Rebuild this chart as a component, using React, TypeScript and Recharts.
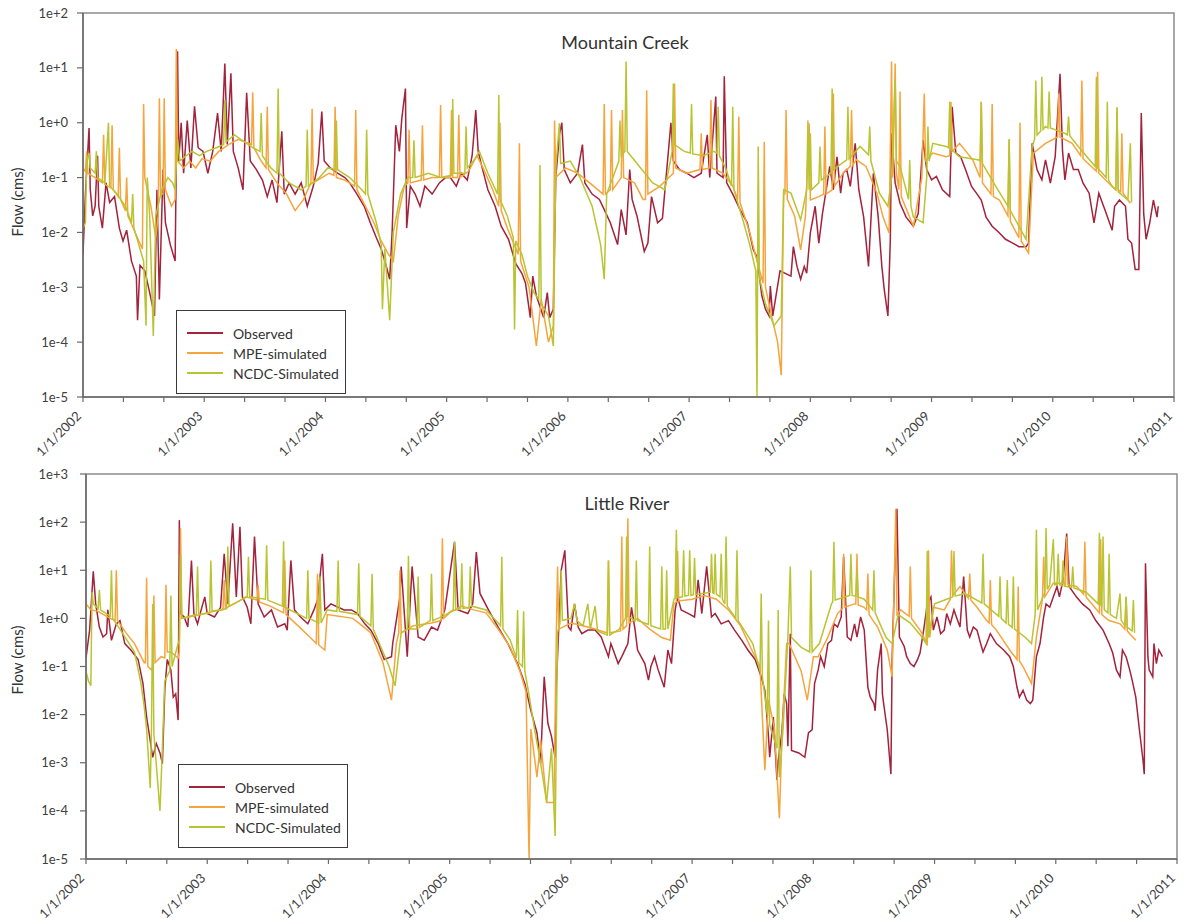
import React from 'react';
import { LineChart, Line, XAxis, YAxis, ReferenceArea } from 'recharts';

type Pt = [number, number];

const FONT = "Lato, 'Open Sans', sans-serif";

// x axis: yearly labels, ticks every 4 months
const years = [2002, 2003, 2004, 2005, 2006, 2007, 2008, 2009, 2010, 2011];
const yearLabels = ['1/1/2002', '1/1/2003', '1/1/2004', '1/1/2005', '1/1/2006', '1/1/2007', '1/1/2008', '1/1/2009', '1/1/2010', '1/1/2011'];

const mcYTicks = [1e-5, 1e-4, 1e-3, 1e-2, 1e-1, 1, 10, 100];
const lrYTicks = [1e-5, 1e-4, 1e-3, 1e-2, 1e-1, 1, 10, 100, 1000];

const seriesNames = ['Observed', 'MPE-simulated', 'NCDC-Simulated'];
const seriesColors = ['#a3223c', '#f6a43c', '#b9c432'];

// ---- Mountain Creek (flow, cms) ----
const mcObserved: Pt[] = [
  [2002.00, 0.004], [2002.02, 0.05], [2002.05, 0.8], [2002.06, 0.06], [2002.08, 0.02], [2002.10, 0.03], [2002.12, 0.25], [2002.13, 0.03],
  [2002.16, 0.012], [2002.19, 0.08], [2002.22, 0.035], [2002.26, 0.045], [2002.30, 0.012], [2002.33, 0.007], [2002.36, 0.011], [2002.40, 0.003],
  [2002.44, 0.0016], [2002.45, 0.00025], [2002.47, 0.0025], [2002.51, 0.002], [2002.55, 0.0008], [2002.59, 0.0003], [2002.61, 0.06], [2002.63, 0.0006],
  [2002.66, 0.14], [2002.68, 0.015], [2002.72, 0.006], [2002.76, 0.003], [2002.78, 20], [2002.79, 0.2], [2002.81, 1.0], [2002.83, 0.12],
  [2002.86, 1.1], [2002.89, 0.15], [2002.92, 2.0], [2002.95, 0.35], [2002.99, 0.3], [2003.03, 0.12], [2003.07, 0.3], [2003.11, 1.5],
  [2003.14, 0.3], [2003.17, 12], [2003.19, 0.4], [2003.22, 8], [2003.24, 0.3], [2003.28, 0.15], [2003.32, 0.06], [2003.35, 3.5],
  [2003.38, 0.2], [2003.43, 0.14], [2003.48, 0.09], [2003.52, 0.045], [2003.56, 0.09], [2003.60, 0.035], [2003.64, 0.7], [2003.66, 0.05],
  [2003.70, 0.08], [2003.75, 0.05], [2003.80, 0.08], [2003.85, 0.03], [2003.90, 0.07], [2003.94, 0.18], [2003.97, 1.6], [2003.99, 0.2],
  [2004.04, 0.15], [2004.10, 0.12], [2004.16, 0.1], [2004.20, 0.08], [2004.26, 0.05], [2004.32, 0.03], [2004.37, 0.015], [2004.42, 0.008],
  [2004.46, 0.005], [2004.50, 0.0025], [2004.53, 0.0014], [2004.55, 0.01], [2004.58, 0.9], [2004.61, 0.3], [2004.63, 1.2], [2004.66, 4.2],
  [2004.67, 0.012], [2004.70, 0.07], [2004.74, 0.05], [2004.78, 0.03], [2004.82, 0.07], [2004.88, 0.05], [2004.94, 0.08], [2004.99, 0.1],
  [2005.03, 0.1], [2005.08, 0.07], [2005.12, 0.12], [2005.17, 0.09], [2005.21, 0.25], [2005.23, 0.85], [2005.24, 1.7], [2005.26, 0.3],
  [2005.29, 0.16], [2005.34, 0.06], [2005.40, 0.03], [2005.45, 0.013], [2005.51, 0.0075], [2005.57, 0.0027], [2005.62, 0.0018], [2005.65, 0.0012],
  [2005.69, 0.00028], [2005.71, 0.0016], [2005.74, 0.0007], [2005.80, 0.00028], [2005.83, 0.0008], [2005.85, 0.00028], [2005.88, 0.0004], [2005.90, 0.1],
  [2005.93, 0.6], [2005.95, 1.0], [2005.97, 0.14], [2006.02, 0.08], [2006.08, 0.12], [2006.12, 0.4], [2006.14, 0.08], [2006.20, 0.05],
  [2006.26, 0.04], [2006.30, 0.026], [2006.35, 0.015], [2006.41, 0.006], [2006.44, 0.026], [2006.48, 0.009], [2006.51, 0.14], [2006.53, 0.04],
  [2006.57, 0.02], [2006.63, 0.0045], [2006.66, 0.0064], [2006.69, 0.045], [2006.74, 0.015], [2006.78, 0.018], [2006.85, 1.0], [2006.87, 0.2],
  [2006.92, 0.14], [2006.98, 0.12], [2007.04, 0.1], [2007.10, 0.12], [2007.15, 0.6], [2007.17, 0.1], [2007.22, 3.0], [2007.23, 0.12],
  [2007.28, 0.1], [2007.29, 7], [2007.31, 0.08], [2007.36, 0.05], [2007.42, 0.026], [2007.48, 0.015], [2007.53, 0.0048], [2007.56, 0.0036],
  [2007.60, 0.0007], [2007.63, 0.0004], [2007.66, 0.0003], [2007.67, 0.00105], [2007.69, 0.0003], [2007.75, 0.002], [2007.84, 0.0016], [2007.86, 0.0055],
  [2007.89, 0.0024], [2007.92, 0.0014], [2007.95, 0.0024], [2007.97, 0.0018], [2008.00, 0.0098], [2008.04, 0.03], [2008.07, 0.0064], [2008.10, 0.022],
  [2008.14, 0.079], [2008.16, 0.16], [2008.19, 0.06], [2008.22, 0.24], [2008.25, 0.052], [2008.27, 0.12], [2008.30, 0.14], [2008.33, 0.069],
  [2008.37, 0.42], [2008.40, 0.06], [2008.44, 0.019], [2008.48, 0.0024], [2008.52, 0.12], [2008.56, 0.019], [2008.59, 0.0024], [2008.61, 0.0009],
  [2008.64, 0.0003], [2008.66, 0.0075], [2008.67, 0.64], [2008.70, 0.079], [2008.74, 0.034], [2008.79, 0.019], [2008.85, 0.013], [2008.89, 0.022],
  [2008.93, 0.48], [2008.96, 0.14], [2009.00, 0.091], [2009.04, 0.105], [2009.09, 0.06], [2009.15, 0.045], [2009.17, 1.95], [2009.20, 0.28],
  [2009.24, 0.24], [2009.28, 0.14], [2009.33, 0.069], [2009.37, 0.052], [2009.41, 0.039], [2009.45, 0.019], [2009.50, 0.013], [2009.56, 0.0098],
  [2009.61, 0.0075], [2009.67, 0.0064], [2009.72, 0.0055], [2009.78, 0.0055], [2009.80, 0.0064], [2009.83, 0.42], [2009.87, 0.14], [2009.91, 0.091],
  [2009.94, 0.21], [2009.98, 0.079], [2010.02, 0.24], [2010.06, 7.8], [2010.08, 0.32], [2010.10, 0.091], [2010.13, 0.28], [2010.17, 0.14],
  [2010.21, 0.14], [2010.25, 0.079], [2010.30, 0.052], [2010.34, 0.015], [2010.38, 0.052], [2010.43, 0.026], [2010.49, 0.011], [2010.51, 0.03],
  [2010.55, 0.039], [2010.60, 0.03], [2010.62, 0.0075], [2010.65, 0.0064], [2010.68, 0.0021], [2010.71, 0.0021], [2010.73, 1.5], [2010.75, 0.022],
  [2010.77, 0.0075], [2010.80, 0.015], [2010.83, 0.039], [2010.86, 0.019], [2010.87, 0.03],
];

const mcMpe: Pt[] = [
  [2002.00, 0.15], [2002.02, 0.13], [2002.03, 0.3], [2002.04, 0.12], [2002.10, 0.1], [2002.16, 0.08], [2002.17, 0.6], [2002.18, 0.075],
  [2002.23, 0.065], [2002.24, 0.9], [2002.25, 0.06], [2002.29, 0.045], [2002.30, 0.35], [2002.31, 0.04], [2002.35, 0.025], [2002.36, 0.1],
  [2002.37, 0.02], [2002.43, 0.01], [2002.49, 0.005], [2002.50, 2.2], [2002.51, 0.1], [2002.56, 0.03], [2002.60, 0.008], [2002.62, 0.02],
  [2002.63, 2.8], [2002.64, 0.05], [2002.66, 0.05], [2002.67, 2.8], [2002.68, 0.06], [2002.73, 0.03], [2002.76, 0.04], [2002.77, 22],
  [2002.78, 0.2], [2002.83, 0.15], [2002.88, 0.2], [2002.93, 0.15], [2002.98, 0.22], [2003.05, 0.2], [2003.12, 0.3], [2003.20, 0.4],
  [2003.28, 0.5], [2003.39, 0.4], [2003.40, 3.6], [2003.41, 0.35], [2003.47, 0.2], [2003.51, 0.15], [2003.52, 1.95], [2003.53, 0.14],
  [2003.60, 0.08], [2003.68, 0.05], [2003.75, 0.025], [2003.82, 0.04], [2003.88, 0.08], [2003.89, 1.8], [2003.90, 0.08], [2003.97, 0.1],
  [2004.03, 0.12], [2004.07, 0.11], [2004.08, 1.95], [2004.09, 0.1], [2004.16, 0.09], [2004.24, 0.07], [2004.25, 1.7], [2004.26, 0.06],
  [2004.33, 0.03], [2004.40, 0.015], [2004.46, 0.007], [2004.52, 0.004], [2004.56, 0.003], [2004.60, 0.02], [2004.65, 0.07], [2004.68, 0.08],
  [2004.69, 0.74], [2004.70, 0.08], [2004.79, 0.09], [2004.80, 0.9], [2004.81, 0.09], [2004.88, 0.1], [2004.94, 0.1], [2004.95, 2.1],
  [2004.96, 0.1], [2005.03, 0.1], [2005.04, 1.7], [2005.05, 0.1], [2005.09, 0.1], [2005.10, 1.4], [2005.11, 0.1], [2005.18, 0.13],
  [2005.25, 0.25], [2005.30, 0.15], [2005.38, 0.06], [2005.43, 0.03], [2005.44, 1.0], [2005.45, 0.025], [2005.50, 0.012], [2005.59, 0.004],
  [2005.60, 0.42], [2005.61, 0.003], [2005.68, 0.001], [2005.74, 0.000085], [2005.78, 0.0006], [2005.84, 0.0001], [2005.88, 0.0002], [2005.89, 1.1],
  [2005.90, 0.1], [2005.98, 0.15], [2006.08, 0.12], [2006.18, 0.08], [2006.29, 0.05], [2006.30, 2.2], [2006.31, 0.05], [2006.35, 0.06],
  [2006.36, 1.7], [2006.37, 0.06], [2006.44, 0.1], [2006.45, 1.7], [2006.46, 0.1], [2006.55, 0.08], [2006.62, 0.04], [2006.64, 0.04],
  [2006.65, 3.9], [2006.66, 0.05], [2006.76, 0.07], [2006.87, 0.12], [2006.88, 5.2], [2006.89, 0.15], [2006.98, 0.12], [2007.09, 0.14],
  [2007.10, 0.64], [2007.11, 0.14], [2007.17, 0.15], [2007.18, 2.6], [2007.19, 0.15], [2007.28, 0.12], [2007.36, 0.07], [2007.40, 0.04],
  [2007.41, 1.3], [2007.42, 0.035], [2007.50, 0.01], [2007.56, 0.003], [2007.61, 0.0012], [2007.62, 0.45], [2007.63, 0.001], [2007.68, 0.0003],
  [2007.73, 0.0001], [2007.76, 0.000025], [2007.78, 0.05], [2007.79, 0.05], [2007.80, 1.7], [2007.81, 0.04], [2007.87, 0.02], [2007.92, 0.0048],
  [2007.96, 0.02], [2007.99, 0.98], [2008.00, 0.039], [2008.07, 0.045], [2008.11, 0.05], [2008.12, 0.85], [2008.13, 0.05], [2008.18, 0.06],
  [2008.19, 3.4], [2008.20, 0.07], [2008.27, 0.12], [2008.33, 0.16], [2008.34, 1.7], [2008.35, 0.17], [2008.38, 0.21], [2008.46, 0.16],
  [2008.55, 0.052], [2008.60, 0.019], [2008.65, 0.0098], [2008.67, 13], [2008.68, 0.1], [2008.70, 12], [2008.71, 0.12], [2008.73, 0.06],
  [2008.74, 3.7], [2008.75, 0.045], [2008.85, 0.013], [2008.92, 0.1], [2008.94, 3.4], [2008.95, 0.2], [2009.01, 0.28], [2009.12, 0.24],
  [2009.15, 0.25], [2009.16, 2.4], [2009.17, 0.3], [2009.23, 0.42], [2009.34, 0.21], [2009.40, 0.1], [2009.41, 2.4], [2009.42, 0.08],
  [2009.49, 0.05], [2009.50, 2.2], [2009.51, 0.045], [2009.56, 0.039], [2009.63, 0.02], [2009.64, 0.5], [2009.65, 0.016], [2009.72, 0.008],
  [2009.73, 1.0], [2009.74, 0.007], [2009.80, 0.0042], [2009.84, 0.28], [2009.94, 0.42], [2010.04, 0.55], [2010.05, 3.4], [2010.06, 0.55],
  [2010.16, 0.42], [2010.23, 0.25], [2010.24, 5.9], [2010.25, 0.22], [2010.36, 0.13], [2010.37, 8.5], [2010.38, 0.12], [2010.49, 0.069],
  [2010.52, 0.06], [2010.53, 1.9], [2010.54, 0.06], [2010.56, 0.055], [2010.57, 0.64], [2010.58, 0.052], [2010.64, 0.034],
];

const mcNcdc: Pt[] = [
  [2002.00, 0.012], [2002.02, 0.015], [2002.03, 0.2], [2002.05, 0.28], [2002.06, 0.15], [2002.10, 0.12], [2002.11, 0.3], [2002.12, 0.1],
  [2002.18, 0.08], [2002.21, 1.0], [2002.22, 0.07], [2002.28, 0.05], [2002.35, 0.03], [2002.40, 0.015], [2002.41, 0.05], [2002.42, 0.012],
  [2002.46, 0.006], [2002.50, 0.003], [2002.52, 0.0002], [2002.53, 0.1], [2002.55, 0.02], [2002.58, 0.00013], [2002.60, 0.02], [2002.65, 0.06],
  [2002.70, 0.1], [2002.74, 0.08], [2002.76, 0.06], [2002.78, 0.5], [2002.80, 0.2], [2002.85, 0.25], [2002.90, 0.3], [2002.96, 0.25],
  [2003.02, 0.3], [2003.10, 0.35], [2003.16, 0.4], [2003.17, 2.6], [2003.18, 0.45], [2003.25, 0.6], [2003.33, 0.45], [2003.40, 0.35],
  [2003.46, 0.3], [2003.47, 1.5], [2003.48, 0.25], [2003.55, 0.15], [2003.60, 0.12], [2003.61, 4.2], [2003.62, 0.12], [2003.70, 0.08],
  [2003.80, 0.06], [2003.84, 0.07], [2003.85, 0.74], [2003.86, 0.07], [2003.95, 0.1], [2004.02, 0.15], [2004.08, 0.14], [2004.09, 1.1],
  [2004.10, 0.14], [2004.20, 0.1], [2004.30, 0.06], [2004.33, 0.05], [2004.34, 0.74], [2004.35, 0.05], [2004.42, 0.015], [2004.46, 0.006],
  [2004.47, 0.0004], [2004.49, 0.005], [2004.53, 0.00025], [2004.56, 0.01], [2004.62, 0.05], [2004.68, 0.1], [2004.72, 0.1], [2004.73, 0.48],
  [2004.74, 0.1], [2004.85, 0.12], [2004.95, 0.1], [2005.04, 0.11], [2005.05, 2.7], [2005.06, 0.12], [2005.15, 0.12], [2005.16, 0.85],
  [2005.17, 0.15], [2005.22, 0.2], [2005.27, 0.3], [2005.34, 0.12], [2005.42, 0.05], [2005.43, 3.2], [2005.44, 0.04], [2005.50, 0.02],
  [2005.55, 0.008], [2005.56, 0.00017], [2005.57, 0.007], [2005.62, 0.004], [2005.67, 0.0015], [2005.72, 0.0008], [2005.76, 0.0006], [2005.77, 0.17],
  [2005.78, 0.0005], [2005.84, 0.0003], [2005.88, 0.000085], [2005.90, 0.15], [2005.93, 0.98], [2005.94, 0.18], [2006.02, 0.2], [2006.10, 0.1],
  [2006.20, 0.03], [2006.27, 0.006], [2006.30, 0.0014], [2006.32, 0.05], [2006.40, 0.15], [2006.42, 0.2], [2006.43, 1.1], [2006.44, 0.25],
  [2006.47, 0.3], [2006.48, 13], [2006.49, 0.3], [2006.60, 0.15], [2006.70, 0.08], [2006.80, 0.06], [2006.86, 0.3], [2006.87, 5.2],
  [2006.88, 0.4], [2006.96, 0.3], [2007.01, 0.28], [2007.02, 2.2], [2007.03, 0.27], [2007.12, 0.25], [2007.20, 0.3], [2007.23, 0.28],
  [2007.24, 1.95], [2007.25, 0.25], [2007.30, 0.15], [2007.35, 0.07], [2007.36, 1.95], [2007.37, 0.06], [2007.45, 0.015], [2007.50, 0.006],
  [2007.55, 0.002], [2007.56, 0.00001], [2007.57, 0.37], [2007.58, 0.0015], [2007.63, 0.0005], [2007.70, 0.0002], [2007.76, 0.0003], [2007.78, 0.06],
  [2007.84, 0.052], [2007.92, 0.017], [2007.97, 0.06], [2007.98, 1.1], [2007.99, 0.06], [2008.00, 0.64], [2008.01, 0.06], [2008.07, 0.08],
  [2008.08, 0.37], [2008.09, 0.09], [2008.17, 0.12], [2008.18, 4.2], [2008.19, 0.14], [2008.30, 0.21], [2008.31, 1.95], [2008.32, 0.22],
  [2008.41, 0.37], [2008.48, 0.26], [2008.49, 0.85], [2008.50, 0.2], [2008.57, 0.052], [2008.64, 0.03], [2008.67, 0.1], [2008.70, 6],
  [2008.71, 0.2], [2008.74, 0.16], [2008.81, 0.04], [2008.82, 0.21], [2008.83, 0.03], [2008.85, 0.019], [2008.93, 0.015], [2008.96, 0.1],
  [2008.97, 0.85], [2008.98, 0.2], [2009.01, 0.42], [2009.12, 0.37], [2009.14, 0.35], [2009.15, 2.4], [2009.16, 0.33], [2009.23, 0.24],
  [2009.39, 0.21], [2009.40, 0.2], [2009.41, 2.4], [2009.42, 0.18], [2009.53, 0.069], [2009.63, 0.03], [2009.64, 0.5], [2009.65, 0.025],
  [2009.78, 0.0075], [2009.83, 0.37], [2009.85, 0.5], [2009.86, 5.9], [2009.87, 0.6], [2009.90, 0.7], [2009.91, 6.9], [2009.92, 0.75],
  [2009.94, 0.85], [2009.96, 0.8], [2009.97, 3.7], [2009.98, 0.8], [2010.10, 0.64], [2010.12, 0.6], [2010.13, 1.3], [2010.14, 0.58],
  [2010.21, 0.37], [2010.35, 0.16], [2010.36, 6.9], [2010.37, 0.15], [2010.44, 0.1], [2010.45, 2.4], [2010.46, 0.09], [2010.49, 0.069],
  [2010.52, 0.06], [2010.53, 1.9], [2010.54, 0.055], [2010.62, 0.039], [2010.64, 0.42], [2010.65, 0.035],
];

// ---- Little River (flow, cms) ----
const lrObserved: Pt[] = [
  [2002.00, 0.15], [2002.03, 0.57], [2002.06, 9.5], [2002.08, 2.0], [2002.11, 0.66], [2002.14, 0.41], [2002.17, 0.48], [2002.18, 1.5],
  [2002.21, 0.35], [2002.25, 0.77], [2002.28, 0.9], [2002.32, 0.3], [2002.37, 0.22], [2002.43, 0.14], [2002.47, 0.044], [2002.50, 0.0089],
  [2002.52, 0.0042], [2002.55, 0.0013], [2002.58, 0.0025], [2002.61, 0.0016], [2002.63, 0.00096], [2002.65, 0.032], [2002.67, 0.14], [2002.70, 0.085],
  [2002.72, 0.023], [2002.74, 0.027], [2002.76, 0.0077], [2002.77, 110], [2002.78, 1.26], [2002.81, 1.07], [2002.84, 0.66], [2002.87, 16],
  [2002.89, 1.26], [2002.92, 0.77], [2002.95, 1.5], [2002.98, 2.8], [2003.00, 1.26], [2003.06, 1.07], [2003.11, 1.7], [2003.14, 22],
  [2003.17, 2.0], [2003.21, 95], [2003.24, 2.8], [2003.27, 80], [2003.29, 2.8], [2003.33, 1.7], [2003.36, 0.77], [2003.39, 50],
  [2003.42, 2.0], [2003.47, 1.07], [2003.53, 1.5], [2003.58, 0.66], [2003.64, 0.77], [2003.66, 0.57], [2003.69, 16], [2003.72, 1.5],
  [2003.77, 1.07], [2003.83, 0.77], [2003.88, 1.5], [2003.91, 2.4], [2003.95, 22], [2003.97, 1.5], [2004.02, 2.0], [2004.08, 1.7],
  [2004.13, 1.5], [2004.19, 1.5], [2004.24, 1.26], [2004.30, 0.77], [2004.35, 0.57], [2004.41, 0.3], [2004.46, 0.14], [2004.52, 0.16],
  [2004.53, 0.3], [2004.59, 2.8], [2004.60, 12], [2004.65, 0.16], [2004.69, 12], [2004.74, 0.41], [2004.79, 0.35], [2004.85, 0.66],
  [2004.90, 0.57], [2004.96, 1.5], [2005.04, 39], [2005.07, 1.5], [2005.15, 1.26], [2005.19, 2.0], [2005.22, 24], [2005.25, 3.3],
  [2005.32, 1.5], [2005.40, 0.66], [2005.48, 0.3], [2005.56, 0.115], [2005.62, 0.044], [2005.67, 0.012], [2005.72, 0.0042], [2005.75, 0.00096],
  [2005.77, 0.017], [2005.78, 0.061], [2005.81, 0.0066], [2005.84, 0.0035], [2005.87, 0.0013], [2005.88, 0.044], [2005.89, 0.16], [2005.92, 10],
  [2005.95, 26], [2005.98, 0.66], [2006.00, 0.57], [2006.03, 2.0], [2006.06, 0.66], [2006.09, 0.48], [2006.14, 0.57], [2006.20, 0.57],
  [2006.25, 0.41], [2006.31, 0.16], [2006.33, 0.3], [2006.39, 0.115], [2006.42, 0.16], [2006.47, 0.3], [2006.50, 1.7], [2006.53, 0.57],
  [2006.55, 0.22], [2006.61, 0.115], [2006.64, 0.052], [2006.66, 0.1], [2006.69, 0.16], [2006.72, 0.085], [2006.77, 0.037], [2006.80, 0.22],
  [2006.83, 0.115], [2006.86, 1.5], [2006.88, 2.8], [2006.91, 1.5], [2006.97, 1.26], [2007.02, 1.07], [2007.05, 6.3], [2007.08, 1.26],
  [2007.12, 12], [2007.16, 1.07], [2007.19, 1.26], [2007.24, 0.77], [2007.30, 0.9], [2007.35, 0.57], [2007.41, 0.35], [2007.46, 0.22],
  [2007.52, 0.14], [2007.57, 0.061], [2007.60, 0.032], [2007.63, 0.0035], [2007.64, 0.0013], [2007.67, 0.0089], [2007.70, 0.00044], [2007.71, 0.0011],
  [2007.74, 0.0042], [2007.76, 0.027], [2007.78, 0.017], [2007.79, 0.0022], [2007.81, 0.48], [2007.82, 0.0018], [2007.88, 0.0016], [2007.93, 0.0013],
  [2007.96, 0.0042], [2007.99, 0.0048], [2008.01, 0.044], [2008.04, 0.085], [2008.06, 0.16], [2008.09, 0.1], [2008.12, 0.3], [2008.15, 0.35],
  [2008.17, 0.77], [2008.20, 0.66], [2008.23, 1.07], [2008.25, 19], [2008.28, 0.41], [2008.31, 0.35], [2008.34, 0.77], [2008.36, 0.41],
  [2008.39, 1.07], [2008.42, 0.57], [2008.45, 0.037], [2008.47, 0.023], [2008.50, 0.017], [2008.51, 0.012], [2008.53, 0.085], [2008.56, 0.3],
  [2008.57, 0.027], [2008.58, 0.017], [2008.61, 0.0048], [2008.64, 0.00058], [2008.65, 0.14], [2008.67, 7.4], [2008.69, 190], [2008.71, 0.41],
  [2008.75, 0.26], [2008.77, 0.16], [2008.80, 0.115], [2008.83, 0.1], [2008.86, 0.14], [2008.88, 0.19], [2008.91, 0.57], [2008.94, 2.0],
  [2008.97, 2.8], [2008.99, 0.57], [2009.02, 1.07], [2009.05, 0.48], [2009.08, 0.57], [2009.10, 1.26], [2009.13, 0.77], [2009.16, 1.5],
  [2009.18, 1.07], [2009.21, 0.66], [2009.24, 7.4], [2009.27, 0.57], [2009.29, 0.41], [2009.32, 0.66], [2009.35, 0.57], [2009.38, 0.3],
  [2009.40, 0.2], [2009.43, 0.3], [2009.46, 0.48], [2009.51, 0.3], [2009.57, 0.22], [2009.62, 0.16], [2009.65, 0.1], [2009.68, 0.037],
  [2009.70, 0.023], [2009.73, 0.032], [2009.76, 0.02], [2009.79, 0.017], [2009.81, 0.02], [2009.84, 0.16], [2009.87, 0.3], [2009.90, 1.07],
  [2009.92, 2.0], [2009.95, 1.7], [2010.01, 4.6], [2010.03, 2.8], [2010.06, 6.3], [2010.09, 58], [2010.11, 4.6], [2010.17, 2.8],
  [2010.22, 2.0], [2010.28, 1.5], [2010.33, 0.9], [2010.39, 0.57], [2010.44, 0.3], [2010.47, 0.19], [2010.50, 0.085], [2010.53, 0.061],
  [2010.55, 0.22], [2010.58, 0.16], [2010.61, 0.085], [2010.63, 0.052], [2010.66, 0.023], [2010.69, 0.0048], [2010.72, 0.0011], [2010.73, 0.00058],
  [2010.74, 14], [2010.76, 0.16], [2010.77, 0.085], [2010.80, 0.061], [2010.81, 0.3], [2010.83, 0.115], [2010.85, 0.22], [2010.88, 0.16],
];

const lrMpe: Pt[] = [
  [2002.00, 2.0], [2002.04, 1.5], [2002.10, 1.4], [2002.12, 1.3], [2002.20, 1.0], [2002.24, 0.9], [2002.25, 10], [2002.26, 0.9],
  [2002.33, 0.5], [2002.40, 0.3], [2002.48, 0.12], [2002.49, 0.12], [2002.50, 7], [2002.51, 0.1], [2002.54, 0.085], [2002.55, 0.1],
  [2002.56, 3], [2002.57, 0.12], [2002.62, 0.16], [2002.65, 0.15], [2002.66, 5], [2002.67, 0.2], [2002.70, 0.2], [2002.76, 0.15],
  [2002.77, 0.2], [2002.78, 75], [2002.79, 1.0], [2002.85, 1.07], [2002.95, 1.2], [2003.05, 1.4], [2003.13, 1.5], [2003.14, 6.3],
  [2003.15, 1.6], [2003.25, 2.2], [2003.32, 2.8], [2003.41, 2.4], [2003.42, 5], [2003.43, 2.2], [2003.52, 1.8], [2003.63, 1.3],
  [2003.64, 16], [2003.65, 1.2], [2003.75, 0.7], [2003.85, 0.4], [2003.90, 0.3], [2003.91, 8.5], [2003.92, 0.28], [2003.97, 0.22],
  [2003.99, 1.2], [2004.10, 1.1], [2004.20, 1.0], [2004.28, 0.7], [2004.35, 0.5], [2004.45, 0.12], [2004.52, 0.02], [2004.56, 0.3],
  [2004.58, 0.5], [2004.59, 10], [2004.60, 0.5], [2004.70, 0.7], [2004.85, 0.8], [2004.93, 0.9], [2004.94, 46], [2004.95, 1.0],
  [2005.00, 1.3], [2005.10, 1.8], [2005.20, 1.5], [2005.30, 1.3], [2005.40, 0.6], [2005.50, 0.25], [2005.58, 0.08], [2005.63, 0.03],
  [2005.655, 0.00001], [2005.67, 0.005], [2005.72, 0.0005], [2005.75, 0.003], [2005.80, 0.00015], [2005.86, 0.00015], [2005.88, 0.5], [2005.89, 12],
  [2005.90, 0.6], [2006.00, 0.8], [2006.10, 0.7], [2006.20, 0.6], [2006.30, 0.5], [2006.31, 16], [2006.32, 0.5], [2006.41, 0.55],
  [2006.42, 50], [2006.43, 0.6], [2006.46, 0.7], [2006.47, 120], [2006.48, 0.8], [2006.55, 1.0], [2006.65, 0.6], [2006.75, 0.4],
  [2006.82, 0.35], [2006.85, 2.0], [2006.87, 2.2], [2006.88, 25], [2006.89, 2.3], [2007.00, 2.5], [2007.10, 3.0], [2007.20, 2.5],
  [2007.30, 1.5], [2007.40, 0.7], [2007.50, 0.2], [2007.56, 0.1], [2007.60, 0.0007], [2007.63, 0.02], [2007.68, 0.005], [2007.72, 0.00007],
  [2007.74, 0.003], [2007.78, 0.3], [2007.80, 0.3], [2007.90, 0.08], [2007.95, 0.02], [2008.00, 0.16], [2008.04, 0.16], [2008.12, 0.41],
  [2008.20, 1.26], [2008.24, 1.6], [2008.25, 22], [2008.26, 1.7], [2008.34, 2.0], [2008.35, 2.0], [2008.36, 22], [2008.37, 1.9],
  [2008.42, 1.7], [2008.44, 1.5], [2008.45, 8.5], [2008.46, 1.2], [2008.53, 0.66], [2008.61, 0.22], [2008.65, 0.061], [2008.66, 0.77],
  [2008.68, 190], [2008.69, 1.2], [2008.72, 1.5], [2008.79, 1.1], [2008.80, 12], [2008.81, 1.0], [2008.88, 0.57], [2008.94, 0.3],
  [2008.95, 26], [2008.96, 0.4], [2008.99, 1.7], [2009.08, 1.5], [2009.13, 2.5], [2009.14, 26], [2009.15, 3], [2009.21, 4.6],
  [2009.27, 2.8], [2009.28, 2.6], [2009.29, 8.5], [2009.30, 2.4], [2009.35, 1.7], [2009.43, 0.9], [2009.45, 0.8], [2009.46, 6.3],
  [2009.47, 0.75], [2009.51, 0.57], [2009.62, 0.22], [2009.68, 0.14], [2009.69, 4.6], [2009.70, 0.13], [2009.73, 0.1], [2009.80, 0.044],
  [2009.84, 0.41], [2009.89, 2.5], [2009.90, 19], [2009.91, 2.8], [2009.98, 5.4], [2010.06, 5.4], [2010.08, 5], [2010.09, 50],
  [2010.10, 5], [2010.17, 4.6], [2010.23, 3.2], [2010.24, 39], [2010.25, 2.8], [2010.36, 1.3], [2010.37, 44], [2010.38, 1.2],
  [2010.44, 0.9], [2010.53, 0.77], [2010.57, 0.6], [2010.58, 2.8], [2010.59, 0.55], [2010.61, 0.48], [2010.66, 0.35],
];

const lrNcdc: Pt[] = [
  [2002.00, 0.08], [2002.02, 0.05], [2002.04, 0.04], [2002.05, 3.5], [2002.06, 2.0], [2002.10, 1.6], [2002.11, 3.9], [2002.12, 1.5],
  [2002.20, 1.1], [2002.21, 10], [2002.22, 1.0], [2002.30, 0.5], [2002.40, 0.2], [2002.45, 0.05], [2002.48, 0.015], [2002.50, 0.005],
  [2002.53, 0.0003], [2002.54, 0.005], [2002.55, 2.0], [2002.56, 0.004], [2002.61, 0.0001], [2002.63, 0.002], [2002.65, 0.05], [2002.69, 0.08],
  [2002.70, 3], [2002.71, 0.1], [2002.76, 0.3], [2002.77, 0.35], [2002.78, 22], [2002.79, 1.0], [2002.91, 1.2], [2002.92, 12],
  [2002.93, 1.2], [2003.02, 1.3], [2003.03, 16], [2003.04, 1.4], [2003.16, 1.6], [2003.17, 31], [2003.18, 1.8], [2003.33, 2.8],
  [2003.34, 19], [2003.35, 2.8], [2003.48, 2.5], [2003.49, 33], [2003.50, 2.4], [2003.62, 1.8], [2003.63, 40], [2003.64, 1.7],
  [2003.82, 1.0], [2003.83, 10], [2003.84, 1.0], [2003.92, 0.8], [2003.93, 7.4], [2003.94, 0.8], [2003.99, 1.5], [2004.07, 1.4],
  [2004.08, 16], [2004.09, 1.4], [2004.24, 1.2], [2004.25, 14], [2004.26, 1.1], [2004.35, 0.7], [2004.36, 8.5], [2004.37, 0.6],
  [2004.45, 0.2], [2004.50, 0.1], [2004.55, 0.04], [2004.60, 0.5], [2004.65, 0.6], [2004.66, 20], [2004.67, 0.6], [2004.73, 0.6],
  [2004.74, 7.4], [2004.75, 0.65], [2004.84, 0.9], [2004.85, 8.5], [2004.86, 0.9], [2004.97, 1.2], [2005.03, 1.5], [2005.04, 39],
  [2005.05, 1.5], [2005.09, 1.6], [2005.10, 14], [2005.11, 1.6], [2005.16, 1.7], [2005.17, 12], [2005.18, 1.8], [2005.30, 1.5],
  [2005.40, 0.8], [2005.42, 0.7], [2005.43, 19], [2005.44, 0.6], [2005.50, 0.35], [2005.55, 0.15], [2005.56, 1.5], [2005.57, 0.12],
  [2005.60, 0.1], [2005.61, 1.4], [2005.62, 0.08], [2005.65, 0.03], [2005.70, 0.005], [2005.75, 0.001], [2005.80, 0.00015], [2005.84, 0.002],
  [2005.87, 0.00003], [2005.89, 0.5], [2005.91, 0.8], [2005.92, 10], [2005.93, 0.9], [2006.00, 1.0], [2006.03, 2.0], [2006.05, 0.9],
  [2006.10, 0.7], [2006.14, 2.0], [2006.16, 0.6], [2006.20, 1.8], [2006.22, 0.55], [2006.30, 0.45], [2006.31, 16], [2006.32, 0.45],
  [2006.40, 0.6], [2006.45, 1.0], [2006.46, 50], [2006.47, 1.1], [2006.50, 1.0], [2006.53, 0.9], [2006.54, 16], [2006.55, 0.9],
  [2006.64, 0.75], [2006.65, 31], [2006.66, 0.7], [2006.74, 0.6], [2006.75, 12], [2006.76, 0.6], [2006.78, 0.6], [2006.79, 10],
  [2006.80, 0.6], [2006.85, 2.5], [2006.86, 2.6], [2006.87, 69], [2006.88, 2.7], [2006.92, 2.8], [2006.93, 26], [2006.94, 2.9],
  [2006.97, 3.0], [2006.98, 26], [2006.99, 3.0], [2007.01, 3.1], [2007.02, 18], [2007.03, 3.1], [2007.15, 3.5], [2007.16, 22],
  [2007.17, 3.4], [2007.18, 3.3], [2007.19, 22], [2007.20, 3.2], [2007.23, 2.8], [2007.24, 22], [2007.25, 2.5], [2007.27, 2.0],
  [2007.28, 50], [2007.29, 1.8], [2007.36, 1.0], [2007.37, 26], [2007.38, 0.9], [2007.50, 0.3], [2007.56, 0.08], [2007.57, 3.3],
  [2007.58, 0.06], [2007.62, 0.01], [2007.63, 0.9], [2007.64, 0.006], [2007.70, 0.002], [2007.71, 1.5], [2007.72, 0.0005], [2007.75, 0.005],
  [2007.79, 0.4], [2007.81, 12], [2007.82, 0.4], [2007.90, 0.25], [2007.97, 0.2], [2007.98, 10], [2007.99, 0.2], [2008.05, 0.3],
  [2008.15, 2.0], [2008.16, 2.2], [2008.17, 39], [2008.18, 2.4], [2008.30, 3.0], [2008.31, 22], [2008.32, 3.0], [2008.35, 2.9],
  [2008.36, 10], [2008.37, 2.8], [2008.42, 2.5], [2008.49, 1.5], [2008.50, 10], [2008.51, 1.3], [2008.53, 1.0], [2008.60, 0.4],
  [2008.65, 0.3], [2008.70, 1.2], [2008.80, 0.8], [2008.90, 0.4], [2008.93, 0.3], [2008.94, 25], [2008.95, 0.4], [2009.00, 2.0],
  [2009.10, 2.5], [2009.15, 2.8], [2009.16, 25], [2009.17, 2.9], [2009.25, 3.3], [2009.39, 2.1], [2009.40, 22], [2009.41, 2.0],
  [2009.53, 1.1], [2009.54, 7.4], [2009.55, 1.0], [2009.59, 0.8], [2009.60, 6.3], [2009.61, 0.75], [2009.64, 0.65], [2009.65, 7.4],
  [2009.66, 0.6], [2009.75, 0.4], [2009.80, 0.3], [2009.83, 1.2], [2009.84, 69], [2009.85, 1.5], [2009.91, 3.5], [2009.92, 75],
  [2009.93, 4], [2009.95, 5], [2009.98, 44], [2009.99, 5], [2010.01, 5], [2010.02, 22], [2010.03, 5], [2010.05, 4.8],
  [2010.06, 16], [2010.07, 4.7], [2010.13, 4.4], [2010.14, 12], [2010.15, 4.3], [2010.25, 3.5], [2010.35, 2.0], [2010.36, 60],
  [2010.37, 1.9], [2010.38, 1.8], [2010.39, 50], [2010.40, 1.5], [2010.43, 1.3], [2010.44, 22], [2010.45, 1.2], [2010.50, 1.0],
  [2010.53, 3.3], [2010.54, 0.9], [2010.57, 0.7], [2010.58, 2.8], [2010.59, 0.65], [2010.63, 0.55], [2010.64, 2.4], [2010.65, 0.5],
];

const toRows = (pts: Pt[]) => pts.map(([t, v]) => ({ t, v }));

// tick every 4 months, label only on 1 January
const xTicks = years.flatMap((y, i) => (i < years.length - 1 ? [y, y + 1 / 3, y + 2 / 3] : [y]));

const fmtExp = (v: number) => {
  const e = Math.round(Math.log10(v));
  return `1e${e >= 0 ? '+' : '-'}${Math.abs(e)}`;
};

const DateTick = (props: any) => {
  const { x, y, payload } = props;
  const i = years.indexOf(payload.value);
  if (i < 0) return null;
  const ax = x - 1;
  const ay = y + 13;
  return (
    <text x={ax} y={ay} transform={`rotate(-45 ${ax} ${ay})`} textAnchor="end" fontSize={13} fill="#404040" fontFamily={FONT}>
      {yearLabels[i]}
    </text>
  );
};

const LegendBox = ({ left, top }: { left: number; top: number }) => (
  <div
    style={{
      position: 'absolute', left, top, width: 170, height: 84, border: '1.5px solid #3a3a3a',
      boxSizing: 'border-box', background: '#fff', fontFamily: FONT,
    }}
  >
    {seriesNames.map((name, i) => (
      <div key={name} style={{ position: 'absolute', left: 10, top: 12 + i * 20, height: 20, display: 'flex', alignItems: 'center' }}>
        <span style={{ display: 'inline-block', width: 36, height: 2.5, background: seriesColors[i] }} />
        <span style={{ marginLeft: 10, fontSize: 14, color: '#333' }}>{name}</span>
      </div>
    ))}
  </div>
);

interface PanelProps {
  top: number;
  height: number;
  marginTop: number;
  marginRight: number;
  yWidth: number;
  yTickMargin: number;
  xHeight: number;
  yMax: number;
  yTicks: number[];
  series: Pt[][];
  legendPos: { left: number; top: number };
  title: string;
  titlePos: { x: number; y: number };
  labelY: number;
}

const Panel = (p: PanelProps) => (
  <>
    <div style={{ position: 'absolute', left: 0, top: p.top }}>
      <LineChart width={1184} height={p.height} margin={{ top: p.marginTop, right: p.marginRight, bottom: 0, left: 0 }}>
        <XAxis
          type="number"
          dataKey="t"
          domain={[2002, 2011]}
          ticks={xTicks}
          interval={0}
          allowDataOverflow
          height={p.xHeight}
          tickSize={5}
          tick={<DateTick />}
          axisLine={{ stroke: '#6a6a6a', strokeWidth: 1.5 }}
          tickLine={{ stroke: '#6a6a6a', strokeWidth: 1.2 }}
        />
        <YAxis
          scale="log"
          type="number"
          domain={[1e-5, p.yMax]}
          ticks={p.yTicks}
          interval={0}
          allowDataOverflow
          width={p.yWidth}
          tickSize={6}
          tickMargin={p.yTickMargin}
          tickFormatter={fmtExp}
          tick={{ fontSize: 13, fill: '#404040', fontFamily: FONT }}
          axisLine={{ stroke: '#6a6a6a', strokeWidth: 1.5 }}
          tickLine={{ stroke: '#6a6a6a', strokeWidth: 1.2 }}
        />
        <ReferenceArea x1={2002} x2={2011} y1={1e-5} y2={p.yMax} fill="none" stroke="#8c8c8c" strokeWidth={1.5} ifOverflow="visible" />
        {p.series.map((s, i) => (
          <Line
            key={seriesNames[i]}
            name={seriesNames[i]}
            data={toRows(s)}
            dataKey="v"
            type="linear"
            stroke={seriesColors[i]}
            strokeWidth={1.5}
            dot={false}
            activeDot={false}
            isAnimationActive={false}
          />
        ))}
      </LineChart>
      <LegendBox left={p.legendPos.left} top={p.legendPos.top} />
    </div>
    <div
      style={{
        position: 'absolute', left: p.titlePos.x, top: p.titlePos.y, transform: 'translate(-50%, -50%)',
        fontFamily: FONT, fontSize: 18, color: '#333', whiteSpace: 'nowrap',
      }}
    >
      {p.title}
    </div>
    <div
      style={{
        position: 'absolute', left: 17, top: p.labelY, transform: 'translate(-50%, -50%) rotate(-90deg)',
        fontFamily: FONT, fontSize: 15, color: '#333', whiteSpace: 'nowrap',
      }}
    >
      Flow (cms)
    </div>
  </>
);

export default function App() {
  return (
    <div style={{ position: 'absolute', left: 0, top: 0, width: 1184, height: 923, background: '#fff' }}>
      <Panel
        top={0}
        height={462}
        marginTop={13}
        marginRight={10}
        yWidth={83}
        yTickMargin={9}
        xHeight={65}
        yMax={100}
        yTicks={mcYTicks}
        series={[mcObserved, mcMpe, mcNcdc]}
        legendPos={{ left: 176, top: 310 }}
        title="Mountain Creek"
        titlePos={{ x: 625, y: 42 }}
        labelY={202}
      />
      <Panel
        top={460}
        height={463}
        marginTop={14}
        marginRight={7}
        yWidth={86}
        yTickMargin={12}
        xHeight={64}
        yMax={1000}
        yTicks={lrYTicks}
        series={[lrObserved, lrMpe, lrNcdc]}
        legendPos={{ left: 178, top: 304 }}
        title="Little River"
        titlePos={{ x: 627, y: 503 }}
        labelY={660}
      />
    </div>
  );
}
